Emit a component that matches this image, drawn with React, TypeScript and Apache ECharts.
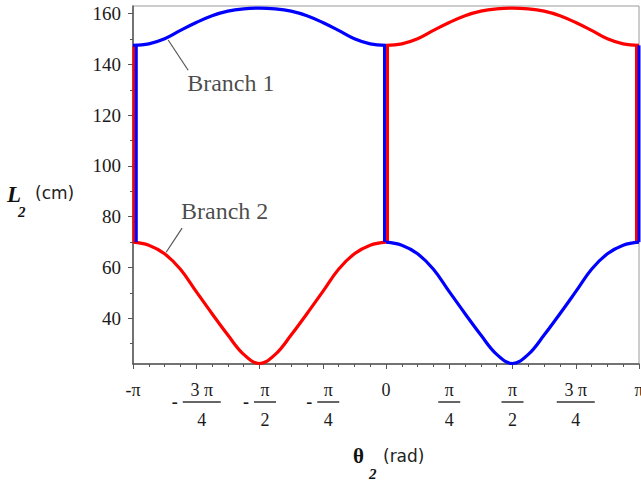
import React, { useEffect, useRef } from "react";
import * as echarts from "echarts";

const PI = Math.PI;

// theta positions, as fractions of pi
const THETA_LEFT = [-1, -0.9375, -0.875, -0.8125, -0.75, -0.6875, -0.625, -0.5625, -0.5, -0.4375, -0.375, -0.3125, -0.25, -0.1875, -0.125, -0.0625, 0];
const THETA_RIGHT = [0, 0.0625, 0.125, 0.1875, 0.25, 0.3125, 0.375, 0.4375, 0.5, 0.5625, 0.625, 0.6875, 0.75, 0.8125, 0.875, 0.9375, 1];

// L2 (cm)
const BLUE_UPPER_LEFT = [147.5, 148.1, 150.1, 153.4, 156.5, 159.2, 161.0, 161.9, 162.2, 161.9, 161.0, 159.2, 156.5, 153.4, 150.1, 148.1, 147.5];
const RED_UPPER_RIGHT = [147.5, 148.1, 150.1, 153.4, 156.5, 159.2, 161.0, 161.9, 162.2, 161.9, 161.0, 159.2, 156.5, 153.4, 150.1, 148.1, 147.5];
const RED_LOWER_LEFT = [70.0, 68.8, 65.4, 59.3, 50.5, 41.8, 33.4, 25.8, 22.2, 25.8, 33.4, 41.8, 50.5, 59.3, 65.4, 68.8, 70.0];
const BLUE_LOWER_RIGHT = [70.0, 68.8, 65.4, 59.3, 50.5, 41.8, 33.4, 25.8, 22.2, 25.8, 33.4, 41.8, 50.5, 59.3, 65.4, 68.8, 70.0];

// vertical jumps between the two branches (theta as fraction of pi)
const RED_JUMP_AT = [-0.996, 0.006, 0.99];
const BLUE_JUMP_AT = [-0.987, -0.006, 1];
const JUMP_RANGE = [70.0, 147.5];

// axes
const X_TICK_LABELS = ["-π", "-3 π/4", "-π/2", "-π/4", "0", "π/4", "π/2", "3 π/4", "π"];
const Y_TICKS = [40, 60, 80, 100, 120, 140, 160];
const Y_MINOR_TICKS = [30, 50, 70, 90, 110, 130, 150];
const Y_RANGE = [22, 163];

// annotations (theta fraction of pi, L2)
const LABEL_TEXTS = ["Branch 1", "Branch 2"];
const LABEL_AT = [[-0.786, 132.6], [-0.81, 82.2]];
const LEADERS = [
  [[-0.861, 149.6], [-0.782, 137.7]],
  [[-0.806, 75.5], [-0.869, 66.0]],
];

const SERIF = '"Liberation Serif", "Times New Roman", serif';
const SANS = '"DejaVu Sans", Verdana, sans-serif';
const RED = "#ff0000";
const BLUE = "#0000ff";

function formatX(value: number): string {
  const k = Math.round(value / (PI / 4)) + 4;
  const label = X_TICK_LABELS[k] ?? "";
  const neg = label.startsWith("-");
  const body = neg ? label.slice(1) : label;
  if (!body.includes("/")) return `{s|${label}}`;
  const [num, den] = body.split("/");
  const bar = num.length > 1 ? "bw" : "bn";
  if (neg) return `{np|${num}}\n{m|-}{${bar}| }\n{dp|${den}}`;
  return `{n|${num}}\n{${bar}| }\n{d|${den}}`;
}

export default function App() {
  const ref = useRef<HTMLDivElement>(null);
  useEffect(() => {
    if (!ref.current) return;
    const chart = echarts.init(ref.current, undefined, { renderer: "svg" });

    const curve = (xs: number[], ys: number[], color: string) => ({
      type: "line",
      data: xs.map((f, i) => [f * PI, ys[i]]),
      smooth: 0.4,
      symbol: "none",
      clip: false,
      silent: true,
      lineStyle: { color, width: 3.2 },
    });
    const vertical = (f: number, color: string) => ({
      type: "line",
      data: [[f * PI, JUMP_RANGE[0]], [f * PI, JUMP_RANGE[1]]],
      symbol: "none",
      clip: false,
      silent: true,
      lineStyle: { color, width: 3 },
    });

    const numStyle = { fontSize: 18, fontFamily: SERIF, color: "#1a1a1a", lineHeight: 20 };
    const denStyle = { fontSize: 18, fontFamily: SERIF, color: "#1a1a1a", lineHeight: 32 };
    const padL = 11;

    const series: any[] = [];
    series.push(curve(THETA_LEFT, RED_LOWER_LEFT, RED));
    series.push(curve(THETA_RIGHT, RED_UPPER_RIGHT, RED));
    RED_JUMP_AT.forEach((f) => series.push(vertical(f, RED)));
    series.push(curve(THETA_LEFT, BLUE_UPPER_LEFT, BLUE));
    series.push(curve(THETA_RIGHT, BLUE_LOWER_RIGHT, BLUE));
    BLUE_JUMP_AT.forEach((f) => series.push(vertical(f, BLUE)));
    LEADERS.forEach((seg) =>
      series.push({
        type: "line",
        data: seg.map((p) => [p[0] * PI, p[1]]),
        symbol: "none",
        silent: true,
        lineStyle: { color: "#555", width: 1.2 },
      })
    );
    series.push({
      type: "scatter",
      symbolSize: 0,
      silent: true,
      data: LABEL_AT.map((p, i) => ({ name: LABEL_TEXTS[i], value: [p[0] * PI, p[1]] })),
      label: {
        show: true,
        position: "right",
        distance: 0,
        formatter: "{b}",
        fontFamily: SERIF,
        fontSize: 24,
        color: "#1a1a1a",
      },
    });

    chart.setOption({
      animation: false,
      backgroundColor: "#ffffff",
      grid: {
        left: 133,
        right: 2,
        top: 6,
        bottom: 118,
        show: true,
        borderColor: "#9a9a9a",
        borderWidth: 1,
        containLabel: false,
        outerBoundsMode: "none",
      },
      xAxis: {
        type: "value",
        min: -PI,
        max: PI,
        interval: PI / 4,
        axisLine: { show: true, onZero: false, lineStyle: { color: "#555", width: 1.5 } },
        axisTick: { show: true, length: 5, inside: false, lineStyle: { color: "#555" } },
        minorTick: { show: true, splitNumber: 4, length: 3, lineStyle: { color: "#555" } },
        splitLine: { show: false },
        axisLabel: {
          margin: 16,
          showMinLabel: true,
          showMaxLabel: true,
          formatter: formatX,
          rich: {
            s: numStyle,
            n: numStyle,
            np: { ...numStyle, padding: [0, 0, 0, padL] },
            d: denStyle,
            dp: { ...denStyle, padding: [0, 0, 0, padL] },
            m: { fontSize: 18, fontWeight: "bold", fontFamily: SERIF, color: "#1a1a1a", lineHeight: 4, padding: [0, 5, 0, 0] },
            bw: { width: 38, height: 1.5, backgroundColor: "#333", lineHeight: 4, fontSize: 1 },
            bn: { width: 22, height: 1.5, backgroundColor: "#333", lineHeight: 4, fontSize: 1 },
          },
        },
      },
      yAxis: [
        {
          type: "value",
          min: Y_RANGE[0],
          max: Y_RANGE[1],
          axisLine: { show: true, onZero: false, lineStyle: { color: "#555", width: 1.5 } },
          axisTick: { show: true, length: 5, customValues: Y_TICKS, lineStyle: { color: "#555" } },
          axisLabel: {
            customValues: Y_TICKS,
            margin: 12,
            fontFamily: SERIF,
            fontSize: 19,
            color: "#1a1a1a",
          },
          splitLine: { show: false },
        },
        {
          type: "value",
          min: Y_RANGE[0],
          max: Y_RANGE[1],
          position: "left",
          axisLine: { show: false, onZero: false },
          axisTick: { show: true, length: 3, customValues: Y_MINOR_TICKS, lineStyle: { color: "#555" } },
          axisLabel: { show: false },
          splitLine: { show: false },
        },
      ],
      graphic: [
        { type: "text", x: 7, y: 194, style: { text: "L", font: `italic bold 23px ${SERIF}`, fill: "#111", textVerticalAlign: "middle" } },
        { type: "text", x: 18, y: 212, style: { text: "2", font: `italic bold 15px ${SERIF}`, fill: "#111", textVerticalAlign: "middle" } },
        { type: "text", x: 35, y: 193, style: { text: "(cm)", font: `17px ${SANS}`, fill: "#222", textVerticalAlign: "middle" } },
        { type: "text", x: 353, y: 456, style: { text: "θ", font: `bold 21px ${SERIF}`, fill: "#111", textVerticalAlign: "middle" } },
        { type: "text", x: 369, y: 474, style: { text: "2", font: `italic bold 15px ${SERIF}`, fill: "#111", textVerticalAlign: "middle" } },
        { type: "text", x: 383, y: 456, style: { text: "(rad)", font: `17px ${SANS}`, fill: "#222", textVerticalAlign: "middle" } },
      ],
      series,
    });
    return () => chart.dispose();
  }, []);

  return (
    <div
      ref={ref}
      style={{ position: "fixed", left: 0, top: 0, width: 641, height: 482, background: "#fff" }}
    />
  );
}
